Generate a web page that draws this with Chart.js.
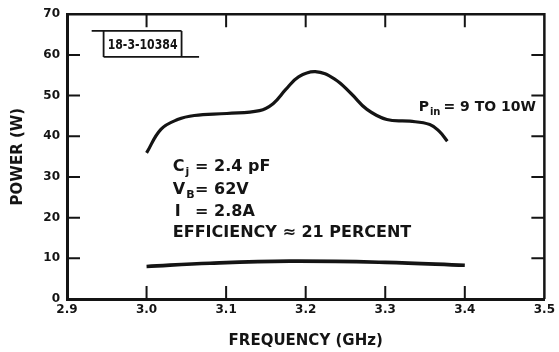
<!DOCTYPE html>
<html>
<head>
<meta charset="utf-8">
<script src="https://cdn.jsdelivr.net/npm/chart.js@4/dist/chart.umd.min.js"></script>
<style>
  body { margin: 0; background: #fff; }
  canvas { display: block; }
</style>
</head>
<body>
<canvas id="powerChart" width="559" height="352"></canvas>
<script>
// ---------------- DATA ----------------
const outFreq  = [3.000, 3.018, 3.039, 3.060, 3.101, 3.142, 3.159, 3.175, 3.191, 3.212, 3.236, 3.257, 3.277, 3.302, 3.331, 3.356, 3.368, 3.378];
const outPower = [35.9, 41.7, 44.1, 45.1, 45.6, 46.3, 48.0, 51.5, 54.6, 55.9, 54.1, 50.5, 46.6, 44.1, 43.7, 42.9, 41.2, 38.8];

const inFreq  = [3.00, 3.08, 3.18, 3.30, 3.40];
const inPower = [8.0, 8.8, 9.3, 9.0, 8.3];

const xTicks = [2.9, 3.0, 3.1, 3.2, 3.3, 3.4, 3.5];
const yTicks = [0, 10, 20, 30, 40, 50, 60, 70];

const INK = "#141414";
const FONT = "'DejaVu Sans', sans-serif";

const toPoints = (xs, ys) => xs.map((x, i) => ({ x: x, y: ys[i] }));

// ---------------- FRAME, INNER TICKS, NOTES ----------------
const framePlugin = {
    id: "frame",
    afterDraw(chart) {
        const ctx = chart.ctx;
        const a = chart.chartArea;
        const xs = chart.scales.x;
        const ys = chart.scales.y;
        const at = (f, p) => [xs.getPixelForValue(f), ys.getPixelForValue(p)];

        ctx.save();
        ctx.strokeStyle = INK;
        ctx.fillStyle = INK;

        // top and right border
        ctx.lineWidth = 2.5;
        ctx.beginPath();
        ctx.moveTo(a.left, a.top);
        ctx.lineTo(a.right, a.top);
        ctx.lineTo(a.right, a.bottom);
        ctx.stroke();

        // tick marks pointing into the plot
        const len = 13;
        ctx.lineWidth = 2;
        ctx.beginPath();
        xTicks.slice(1, -1).forEach(v => {
            const px = xs.getPixelForValue(v);
            ctx.moveTo(px, a.bottom); ctx.lineTo(px, a.bottom - len);
            ctx.moveTo(px, a.top); ctx.lineTo(px, a.top + len);
        });
        yTicks.slice(1, -1).forEach(v => {
            const py = ys.getPixelForValue(v);
            ctx.moveTo(a.left, py); ctx.lineTo(a.left + len, py);
            ctx.moveTo(a.right, py); ctx.lineTo(a.right - len, py);
        });
        ctx.stroke();

        // drawing number box
        const [bx0, by0] = at(2.931, 65.9);
        const [bx1] = at(2.946, 0);
        const [bx2, by1] = at(3.044, 59.5);
        const [bx3] = at(3.066, 0);
        ctx.lineWidth = 1.8;
        ctx.beginPath();
        ctx.moveTo(bx0, by0); ctx.lineTo(bx2, by0);
        ctx.moveTo(bx1, by0); ctx.lineTo(bx1, by1);
        ctx.moveTo(bx2, by0); ctx.lineTo(bx2, by1);
        ctx.moveTo(bx1, by1); ctx.lineTo(bx3, by1);
        ctx.stroke();
        ctx.textBaseline = "middle";
        ctx.textAlign = "center";
        ctx.save();
        ctx.translate((bx1 + bx2) / 2, (by0 + by1) / 2 + 1);
        ctx.scale(0.78, 1);
        ctx.font = "bold 14px " + FONT;
        ctx.fillText("18-3-10384", 0, 0);
        ctx.restore();

        // text with a subscript
        ctx.textAlign = "left";
        const subText = (main, sub, x, y, size) => {
            ctx.font = "bold " + size + "px " + FONT;
            ctx.fillText(main, x, y);
            const w = ctx.measureText(main).width;
            ctx.font = "bold " + Math.round(size * 0.7) + "px " + FONT;
            ctx.fillText(sub, x + w + 1, y + 5);
            return x + w + 1 + ctx.measureText(sub).width;
        };

        const [tx, ty0] = at(3.033, 32.4);
        const [ex] = at(3.061, 0);
        const [, ty1] = at(0, 26.8);
        const [, ty2] = at(0, 21.5);
        const [, ty3] = at(0, 16.3);

        subText("C", "j", tx, ty0, 16);
        subText("V", "B", tx, ty1, 16);
        ctx.font = "bold 16px " + FONT;
        ctx.fillText("I", tx + 2, ty2);
        ctx.fillText("= 2.4 pF", ex, ty0);
        ctx.fillText("= 62V", ex, ty1);
        ctx.fillText("= 2.8A", ex, ty2);
        ctx.fillText("EFFICIENCY \u2248 21 PERCENT", tx, ty3);

        const [px, py] = at(3.342, 47.1);
        const pEnd = subText("P", "in", px, py, 14);
        ctx.font = "bold 14px " + FONT;
        ctx.fillText("= 9 TO 10W", pEnd + 3, py);

        ctx.restore();
    }
};

// ---------------- CHART ----------------
new Chart(document.getElementById("powerChart"), {
    type: "line",
    data: {
        datasets: [
            {
                label: "Output power",
                data: toPoints(outFreq, outPower),
                borderColor: INK,
                borderWidth: 3.2,
                pointRadius: 0,
                tension: 0.4,
                fill: false
            },
            {
                label: "Input power",
                data: toPoints(inFreq, inPower),
                borderColor: INK,
                borderWidth: 3.6,
                pointRadius: 0,
                tension: 0.4,
                fill: false
            }
        ]
    },
    options: {
        responsive: false,
        animation: false,
        layout: { padding: { top: 12, right: 5, left: 0, bottom: 0 } },
        plugins: {
            legend: { display: false },
            tooltip: { enabled: false }
        },
        scales: {
            x: {
                type: "linear",
                min: 2.9,
                max: 3.5,
                afterFit(scale) { scale.height = 53; },
                afterBuildTicks(scale) { scale.ticks = xTicks.map(v => ({ value: v })); },
                grid: { display: false, drawTicks: false },
                border: { display: true, color: INK, width: 3 },
                ticks: {
                    color: INK,
                    padding: 4,
                    maxRotation: 0,
                    font: { family: FONT, size: 12, weight: "bold" },
                    callback: v => v.toFixed(1)
                },
                title: {
                    display: true,
                    text: "FREQUENCY (GHz)",
                    color: INK,
                    font: { family: FONT, size: 15, weight: "bold" },
                    padding: { top: 0, bottom: 2 }
                }
            },
            y: {
                type: "linear",
                min: 0,
                max: 70,
                afterFit(scale) { scale.width = 67; },
                afterBuildTicks(scale) { scale.ticks = yTicks.map(v => ({ value: v })); },
                grid: { display: false, drawTicks: false },
                border: { display: true, color: INK, width: 3 },
                ticks: {
                    color: INK,
                    padding: 7,
                    font: { family: FONT, size: 12, weight: "bold" }
                },
                title: {
                    display: true,
                    text: "POWER (W)",
                    color: INK,
                    font: { family: FONT, size: 15, weight: "bold" },
                    padding: { top: 9, bottom: 0 }
                }
            }
        }
    },
    plugins: [framePlugin]
});
</script>
</body>
</html>
